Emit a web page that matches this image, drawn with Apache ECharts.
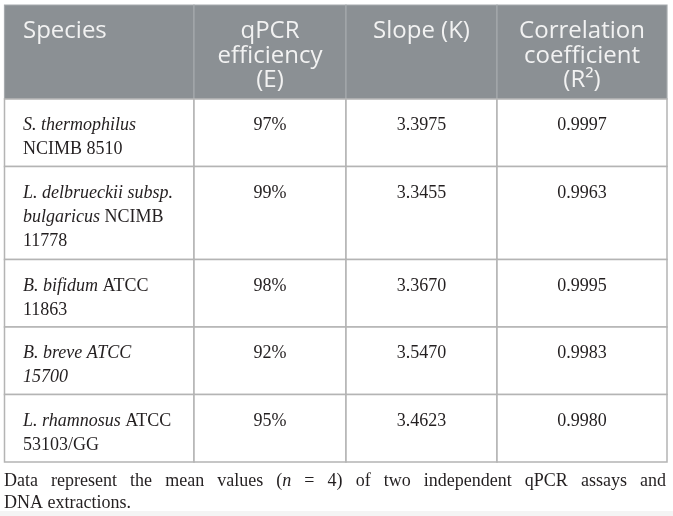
<!DOCTYPE html>
<html><head><meta charset="utf-8">
<script src="https://cdn.jsdelivr.net/npm/echarts@6/dist/echarts.min.js"></script>
<style>html,body{margin:0;padding:0;background:#fff}#c{width:673px;height:516px}</style>
</head><body><div id="c"></div>
<script>
// ---- data ----
const headers = ['Species', 'qPCR\nefficiency\n(E)', 'Slope (K)', 'Correlation\ncoefficient\n(R²)'];
const species = [
  '{i|S. thermophilus}\nNCIMB 8510',
  '{i|L. delbrueckii subsp.}\n{i|bulgaricus} NCIMB\n11778',
  '{i|B. bifidum} ATCC\n11863',
  '{i|B. breve ATCC}\n{i|15700}',
  '{i|L. rhamnosus} ATCC\n53103/GG'
];
const efficiency = ['97%', '99%', '98%', '92%', '95%'];
const slope = ['3.3975', '3.3455', '3.3670', '3.5470', '3.4623'];
const r2 = ['0.9997', '0.9963', '0.9995', '0.9983', '0.9980'];
const footnote = [
  'Data represent the mean values ({i|n} = 4) of two independent qPCR assays and',
  'DNA extractions.'
];

// ---- layout ----
const colWidths = [189.5, 152, 151, 170];
const colEdges = [0];
colWidths.forEach(w => colEdges.push(colEdges[colEdges.length - 1] + w));
const lineCount = s => s.split('\n').length;
const rowHeights = [94].concat(species.map(s => lineCount(s) >= 3 ? 93 : 67.5));
const rowEdges = [0];
rowHeights.forEach(h => rowEdges.push(rowEdges[rowEdges.length - 1] + h));

const SERIF = '"Liberation Serif", "Times New Roman", serif';
const SANS = '"Open Sans", "Noto Sans", sans-serif';
const TXT = '#231f20';

const cells = [];
headers.forEach((h, c) => cells.push({ col: c, row: 0, text: h }));
species.forEach((s, r) => {
  cells.push({ col: 0, row: r + 1, text: s });
  cells.push({ col: 1, row: r + 1, text: efficiency[r] });
  cells.push({ col: 2, row: r + 1, text: slope[r] });
  cells.push({ col: 3, row: r + 1, text: r2[r] });
});

const richBody = {
  i: { fontFamily: SERIF, fontSize: 18, fontStyle: 'italic', lineHeight: 24, fill: TXT },
};

// ---- footnote (justified) ----
const mctx = document.createElement('canvas').getContext('2d');
function frags(tok) {
  const out = []; const re = /\{i\|([^}]*)\}|([^{]+)/g; let m;
  while ((m = re.exec(tok))) out.push(m[1] !== undefined ? { t: m[1], it: true } : { t: m[2], it: false });
  return out;
}
function measure(tok) {
  return frags(tok).reduce((a, f) => {
    mctx.font = (f.it ? 'italic ' : '') + '18px ' + SERIF;
    return a + mctx.measureText(f.t).width;
  }, 0);
}
const FN_LEFT = 4, FN_RIGHT = 666, FN_Y = [481, 503];
const graphics = [
  { type: 'rect', shape: { x: 0, y: 511, width: 673, height: 5 }, style: { fill: '#f4f4f4' }, z: -1 }
];
footnote.forEach((line, li) => {
  const toks = line.split(' ');
  const widths = toks.map(measure);
  const total = widths.reduce((a, b) => a + b, 0);
  const last = li === footnote.length - 1;
  mctx.font = '18px ' + SERIF;
  const gap = last ? mctx.measureText(' ').width : (FN_RIGHT - FN_LEFT - total) / (toks.length - 1);
  let x = FN_LEFT;
  toks.forEach((t, k) => {
    graphics.push({
      type: 'text', x: x, y: FN_Y[li],
      style: { text: t, font: '18px ' + SERIF, fill: TXT, verticalAlign: 'middle', align: 'left', rich: richBody }
    });
    x += widths[k] + gap;
  });
});

const chart = echarts.init(document.getElementById('c'), null, { renderer: 'canvas' });
chart.setOption({
  animation: false,
  backgroundColor: '#ffffff',
  grid: { left: 4.5, top: 5, width: colEdges[4], height: rowEdges[rowEdges.length - 1] },
  xAxis: { type: 'value', min: 0, max: colEdges[4], show: false },
  yAxis: { type: 'value', min: 0, max: rowEdges[rowEdges.length - 1], inverse: true, show: false },
  graphic: graphics,
  series: [{
    type: 'custom',
    coordinateSystem: 'cartesian2d',
    clip: false,
    data: cells.map(c => [c.col, c.row]),
    renderItem: function (params, api) {
      const c = cells[params.dataIndex];
      const p0 = api.coord([colEdges[c.col], rowEdges[c.row]]);
      const p1 = api.coord([colEdges[c.col + 1], rowEdges[c.row + 1]]);
      const isH = c.row === 0;
      const left = c.col === 0;
      const children = [{
        type: 'rect',
        shape: { x: p0[0], y: p0[1], width: p1[0] - p0[0], height: p1[1] - p0[1] },
        style: { fill: isH ? '#8b9094' : '#ffffff', stroke: isH ? '#a6aaad' : '#b4b4b4', lineWidth: isH ? 1.2 : 1.5 }
      }];
      const st = isH
        ? { text: c.text, font: '24px ' + SANS, fill: '#f2f2f2', lineHeight: 24.5 }
        : { text: c.text, font: '18px ' + SERIF, fill: TXT, lineHeight: 24, rich: richBody };
      st.align = left ? 'left' : 'center';
      st.verticalAlign = 'top';
      children.push({
        type: 'text',
        x: left ? p0[0] + 18.5 : (p0[0] + p1[0]) / 2,
        y: p0[1] + (isH ? 14 : 14.5),
        style: st
      });
      return { type: 'group', children: children };
    }
  }]
});
</script>
</body></html>
